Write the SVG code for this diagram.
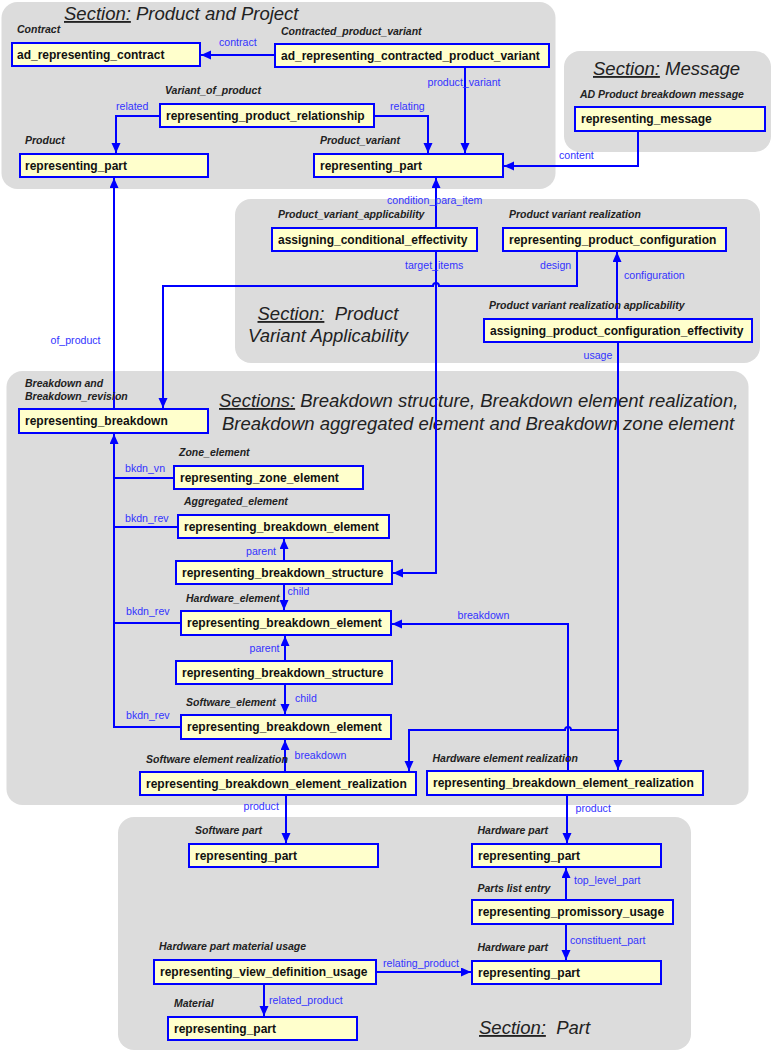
<svg xmlns="http://www.w3.org/2000/svg" width="772" height="1052" viewBox="0 0 772 1052">
<style>
.sec{fill:#dcdcdc;stroke:none}
.st{font-family:"Liberation Sans",Arial,sans-serif;font-size:18.5px;font-style:italic;fill:#222}
.u{text-decoration:underline}
.box{fill:#ffffcc;stroke:#0000ff;stroke-width:2}
.nt{font-family:"Liberation Sans",Arial,sans-serif;font-size:12px;font-weight:bold;fill:#111}
.lb{font-family:"Liberation Sans",Arial,sans-serif;font-size:10.5px;font-weight:bold;font-style:italic;fill:#222}
.cl{font-family:"Liberation Sans",Arial,sans-serif;font-size:10.6px;fill:#3333ff}
.c{fill:none;stroke:#0000ff;stroke-width:2}
.a{marker-end:url(#arr)}
</style>
<defs>
<marker id="arr" markerUnits="userSpaceOnUse" markerWidth="11" markerHeight="10" refX="10" refY="4.5" orient="auto">
<path d="M0,0 L10,4.5 L0,9 z" fill="#0000ff"/>
</marker>
</defs>

<g id="sections">
<rect class="sec" x="1.5" y="2" width="554" height="187" rx="16"/>
<rect class="sec" x="564" y="51" width="207" height="101" rx="16"/>
<rect class="sec" x="235" y="199" width="525" height="164" rx="16"/>
<rect class="sec" x="6.5" y="371" width="742" height="434" rx="16"/>
<rect class="sec" x="118" y="817" width="573" height="233" rx="16"/>
<text class="st" x="64" y="20" xml:space="preserve"><tspan class="u">Section:</tspan> Product and Project</text>
<text class="st" x="593" y="75" xml:space="preserve"><tspan class="u">Section:</tspan> Message</text>
<text class="st" x="257.5" y="320" xml:space="preserve"><tspan class="u">Section:</tspan>  Product</text>
<text class="st" x="248" y="342">Variant Applicability</text>
<text class="st" x="219" y="407" xml:space="preserve"><tspan class="u">Sections:</tspan> Breakdown structure, Breakdown element realization,</text>
<text class="st" x="222" y="430">Breakdown aggregated element and Breakdown zone element</text>
<text class="st" x="479" y="1034" xml:space="preserve"><tspan class="u">Section:</tspan>  Part</text>
</g>

<g id="connectors">
<path class="c a" d="M275,55 H201"/>
<path class="c a" d="M465,67 V153"/>
<path class="c a" d="M160,116 H116 V153"/>
<path class="c a" d="M374,116 H428 V153"/>
<path class="c a" d="M638,131 V166 H504"/>
<path class="c a" d="M436,228 V178"/>
<path class="c a" d="M114,409 V178"/>
<path class="c a" d="M436,251 V573 H393"/>
<path class="c a" d="M577,251 V286 H439 A3,3 0 0 0 433,286 H163 V408"/>
<path class="c a" d="M617,319 V252"/>
<path class="c a" d="M618,342 V770"/>
<path class="c a" d="M618,730 H571 A3,3 0 0 0 565,730 H409 V771"/>
<path class="c" d="M174,478 H114"/>
<path class="c" d="M178,527 H114"/>
<path class="c" d="M181,623 H114"/>
<path class="c a" d="M181,727 H114 V434"/>
<path class="c a" d="M284,561 V539"/>
<path class="c a" d="M284,585 V610"/>
<path class="c a" d="M568,771 V624 H392"/>
<path class="c a" d="M285,661 V636"/>
<path class="c a" d="M285,685 V714"/>
<path class="c a" d="M285,772 V740"/>
<path class="c a" d="M286,796 V843"/>
<path class="c a" d="M567,795 V843"/>
<path class="c a" d="M566,900 V868"/>
<path class="c a" d="M566,924 V960"/>
<path class="c a" d="M376,972 H471"/>
<path class="c a" d="M264,984 V1016"/>
<text class="cl" x="219" y="46">contract</text>
<text class="cl" x="427.5" y="85.5">product_variant</text>
<text class="cl" x="116" y="110">related</text>
<text class="cl" x="390" y="110">relating</text>
<text class="cl" x="559" y="159">content</text>
<text class="cl" x="387" y="204">condition_para_item</text>
<text class="cl" x="50.5" y="344">of_product</text>
<text class="cl" x="405" y="268.5">target_items</text>
<text class="cl" x="540" y="268.5">design</text>
<text class="cl" x="624" y="279">configuration</text>
<text class="cl" x="583.5" y="359">usage</text>
<text class="cl" x="125" y="471.5">bkdn_vn</text>
<text class="cl" x="125" y="521.5">bkdn_rev</text>
<text class="cl" x="246" y="555">parent</text>
<text class="cl" x="287.5" y="595">child</text>
<text class="cl" x="126" y="615">bkdn_rev</text>
<text class="cl" x="457.5" y="619">breakdown</text>
<text class="cl" x="249.5" y="652">parent</text>
<text class="cl" x="295" y="702">child</text>
<text class="cl" x="126" y="719">bkdn_rev</text>
<text class="cl" x="294.5" y="759">breakdown</text>
<text class="cl" x="243.5" y="810">product</text>
<text class="cl" x="575.5" y="812">product</text>
<text class="cl" x="574" y="884">top_level_part</text>
<text class="cl" x="570" y="944">constituent_part</text>
<text class="cl" x="383" y="966.5">relating_product</text>
<text class="cl" x="269" y="1004">related_product</text>
</g>

<g id="n_contract"><text class="lb" x="17" y="33">Contract</text><rect class="box" x="12" y="43" width="188" height="23"/><text class="nt" x="17" y="59">ad_representing_contract</text></g>
<g id="n_cpv"><text class="lb" x="281" y="35">Contracted_product_variant</text><rect class="box" x="275" y="44" width="274" height="23"/><text class="nt" x="281" y="60">ad_representing_contracted_product_variant</text></g>
<g id="n_rel"><text class="lb" x="165" y="94">Variant_of_product</text><rect class="box" x="160" y="104" width="214" height="23"/><text class="nt" x="166" y="120">representing_product_relationship</text></g>
<g id="n_product"><text class="lb" x="25" y="144">Product</text><rect class="box" x="20" y="154" width="188" height="23"/><text class="nt" x="25" y="170">representing_part</text></g>
<g id="n_pv"><text class="lb" x="320" y="144">Product_variant</text><rect class="box" x="314" y="154" width="189" height="23"/><text class="nt" x="320" y="170">representing_part</text></g>
<g id="n_msg"><text class="lb" x="580" y="98">AD Product breakdown message</text><rect class="box" x="575" y="107" width="190" height="24"/><text class="nt" x="581" y="123">representing_message</text></g>
<g id="n_ace"><text class="lb" x="278" y="218">Product_variant_applicability</text><rect class="box" x="272" y="228" width="205" height="23"/><text class="nt" x="278" y="244">assigning_conditional_effectivity</text></g>
<g id="n_rpc"><text class="lb" x="509" y="218">Product variant realization</text><rect class="box" x="503" y="228" width="223" height="23"/><text class="nt" x="509" y="244">representing_product_configuration</text></g>
<g id="n_apce"><text class="lb" x="489" y="309">Product variant realization applicability</text><rect class="box" x="484" y="319" width="268" height="23"/><text class="nt" x="490" y="335">assigning_product_configuration_effectivity</text></g>
<g id="n_bkdn"><text class="lb" x="25" y="387">Breakdown and</text><text class="lb" x="25" y="399.5">Breakdown_revision</text><rect class="box" x="19" y="409" width="189" height="24"/><text class="nt" x="25" y="425">representing_breakdown</text></g>
<g id="n_zone"><text class="lb" x="179" y="456">Zone_element</text><rect class="box" x="174" y="466" width="189" height="23"/><text class="nt" x="180" y="482">representing_zone_element</text></g>
<g id="n_agg"><text class="lb" x="184" y="505">Aggregated_element</text><rect class="box" x="178" y="515" width="211" height="23"/><text class="nt" x="184" y="531">representing_breakdown_element</text></g>
<g id="n_rbs1"><rect class="box" x="176" y="561" width="216" height="23"/><text class="nt" x="182" y="577">representing_breakdown_structure</text></g>
<g id="n_hw"><text class="lb" x="186" y="601.5">Hardware_element</text><rect class="box" x="181" y="611" width="210" height="24"/><text class="nt" x="187" y="627">representing_breakdown_element</text></g>
<g id="n_rbs2"><rect class="box" x="176" y="661" width="216" height="23"/><text class="nt" x="182" y="677">representing_breakdown_structure</text></g>
<g id="n_sw"><text class="lb" x="186" y="706">Software_element</text><rect class="box" x="181" y="715" width="210" height="24"/><text class="nt" x="187" y="731">representing_breakdown_element</text></g>
<g id="n_swr"><text class="lb" x="146" y="762.5">Software element realization</text><rect class="box" x="140" y="772" width="276" height="23"/><text class="nt" x="146" y="788">representing_breakdown_element_realization</text></g>
<g id="n_hwr"><text class="lb" x="432.5" y="761.5">Hardware element realization</text><rect class="box" x="427" y="771" width="276" height="24"/><text class="nt" x="433" y="787">representing_breakdown_element_realization</text></g>
<g id="n_swpart"><text class="lb" x="195" y="834">Software part</text><rect class="box" x="189" y="844" width="189" height="23"/><text class="nt" x="195" y="860">representing_part</text></g>
<g id="n_hwpart1"><text class="lb" x="477.5" y="834">Hardware part</text><rect class="box" x="472" y="844" width="189" height="23"/><text class="nt" x="478" y="860">representing_part</text></g>
<g id="n_pu"><text class="lb" x="477.5" y="891.5">Parts list entry</text><rect class="box" x="472" y="900" width="201" height="24"/><text class="nt" x="478" y="916">representing_promissory_usage</text></g>
<g id="n_hwpart2"><text class="lb" x="477.5" y="951">Hardware part</text><rect class="box" x="472" y="961" width="189" height="23"/><text class="nt" x="478" y="977">representing_part</text></g>
<g id="n_vdu"><text class="lb" x="159" y="950">Hardware part material usage</text><rect class="box" x="154" y="960" width="222" height="24"/><text class="nt" x="160" y="976">representing_view_definition_usage</text></g>
<g id="n_material"><text class="lb" x="174" y="1006.5">Material</text><rect class="box" x="168" y="1017" width="189" height="23"/><text class="nt" x="174" y="1033">representing_part</text></g>
</svg>
